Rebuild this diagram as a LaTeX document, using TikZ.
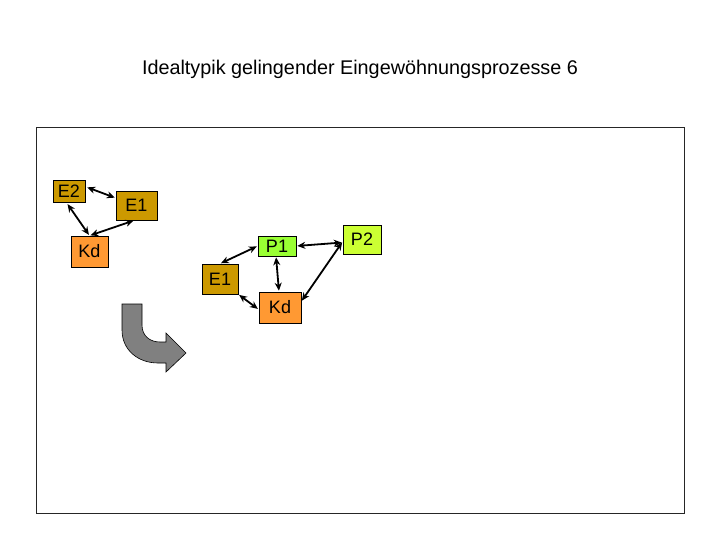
\documentclass[tikz,border=0pt]{standalone}
\usepackage{fontspec}
\setmainfont{Liberation Sans}
\usetikzlibrary{arrows.meta}
\definecolor{egold}{RGB}{204,153,0}
\definecolor{kdorange}{RGB}{255,153,51}
\definecolor{pgreen}{RGB}{153,255,51}
\definecolor{pyellow}{RGB}{204,255,51}
\definecolor{arrgray}{RGB}{128,128,128}
\tikzset{
  box/.style={draw=black, line width=0.6pt, inner sep=0pt, font=\fontsize{18}{20}\selectfont},
  ebox/.style={box, fill=egold},
  kbox/.style={box, fill=kdorange},
  pbox/.style={box, fill=pgreen},
  qbox/.style={box, fill=pyellow},
  link/.style={line width=1.8pt, {Stealth[length=8pt,width=7pt]}-{Stealth[length=8pt,width=7pt]}, shorten <=1pt, shorten >=1pt},
}
\begin{document}
\begin{tikzpicture}[x=1pt,y=-1pt]
\useasboundingbox (0,0) rectangle (720,540);
\node[font=\fontsize{19.8}{22}\selectfont] (title) at (360,69) {Idealtypik gelingender Eingewöhnungsprozesse 6};
\draw[line width=1pt, draw=black!85] (36,128) rectangle (684,513);
% left group
\node[ebox, minimum width=32pt, minimum height=22pt] (E2) at (69,191) {E2};
\node[ebox, minimum width=41pt, minimum height=29pt] (E1a) at (136.5,205.5) {E1};
\node[kbox, minimum width=37pt, minimum height=31pt] (Kda) at (89.5,251.5) {Kd};
\draw[link] (E2.east) ++(1,-4) coordinate (a1) -- (E1a.west |- 0,198) coordinate (a2);
\draw[link] (E2.south) ++(-2,1) coordinate (b1) -- ([xshift=0pt]Kda.north);
\draw[link] (Kda.north) -- ([xshift=-2pt]E1a.south);
% right group
\node[pbox, minimum width=38pt, minimum height=20pt] (P1) at (277,246) {P1};
\node[qbox, minimum width=38pt, minimum height=29pt] (P2) at (362,239.5) {P2};
\node[ebox, minimum width=36pt, minimum height=30pt] (E1b) at (220,279) {E1};
\node[kbox, minimum width=42pt, minimum height=31pt] (Kdb) at (280,307.5) {Kd};
\draw[link] (P1.west) -- (E1b.north);
\draw[link] (P1.east) -- ([yshift=-3pt]P2.west);
\draw[link] ([xshift=-1pt]P1.south) -- ([xshift=-1pt]Kdb.north);
\draw[link] (E1b.south east) -- ([yshift=-2pt]Kdb.west);
\draw[link] ([yshift=-2pt]P2.west) -- ([yshift=6pt]Kdb.east);
% curved arrow
\draw[fill=arrgray, draw=black, line width=0.6pt]
  (122,304) -- (142,304) -- (142,325)
  .. controls (142,336) and (150,342) .. (160,342)
  -- (166,342) -- (166,333) -- (186,353) -- (166,372) -- (166,363)
  -- (158,363)
  .. controls (138,363) and (122,350) .. (122,330) -- cycle;
\end{tikzpicture}
\end{document}
